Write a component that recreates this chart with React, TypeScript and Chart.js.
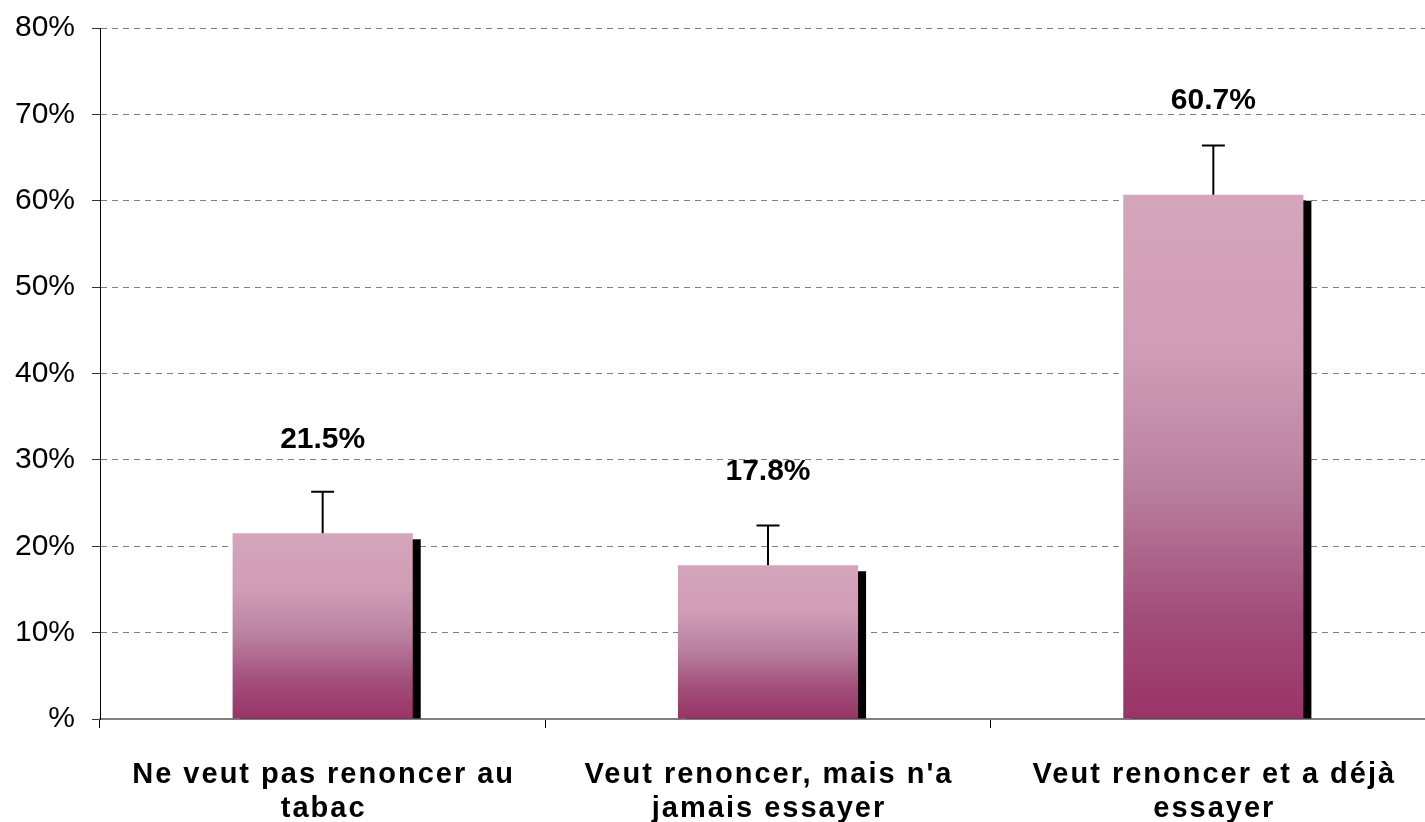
import React, { useEffect, useRef } from 'react';
import { Chart, registerables } from 'chart.js';

Chart.register(...registerables);

const FONT = '"Liberation Sans", Arial, Helvetica, sans-serif';

const categories: string[][] = [
  ['Ne veut pas renoncer au', 'tabac'],
  ["Veut renoncer, mais n'a", 'jamais essayer'],
  ['Veut renoncer et a déjà', 'essayer'],
];
const values: number[] = [21.5, 17.8, 60.7];
const errorsUp: number[] = [4.8, 4.6, 5.7];
const yTickValues: number[] = [0, 10, 20, 30, 40, 50, 60, 70, 80];
const yTickLabels: string[] = ['%', '10%', '20%', '30%', '40%', '50%', '60%', '70%', '80%'];

const W = 1436;
const H = 822;

const decorPlugin = {
  id: 'decor',
  beforeDatasetsDraw(chart: any) {
    const ctx = chart.ctx;
    const meta = chart.getDatasetMeta(0);
    ctx.save();
    ctx.fillStyle = '#000000';
    meta.data.forEach((bar: any) => {
      const p = bar.getProps(['x', 'y', 'width', 'base'], true);
      const left = p.x - p.width / 2 + 8;
      const top = p.y + 6;
      ctx.fillRect(left, top, p.width, p.base - top);
    });
    ctx.restore();
  },
  afterDatasetsDraw(chart: any) {
    const ctx = chart.ctx;
    const ys = chart.scales.y;
    const meta = chart.getDatasetMeta(0);
    ctx.save();
    meta.data.forEach((bar: any, i: number) => {
      const p = bar.getProps(['x', 'y', 'width', 'base'], true);
      const yTop = ys.getPixelForValue(values[i] + errorsUp[i]);
      ctx.strokeStyle = '#000000';
      ctx.lineWidth = 2;
      ctx.beginPath();
      ctx.moveTo(p.x, p.y);
      ctx.lineTo(p.x, yTop);
      ctx.moveTo(p.x - 11.5, yTop);
      ctx.lineTo(p.x + 11.5, yTop);
      ctx.stroke();

      ctx.fillStyle = '#000000';
      ctx.font = `bold 30px ${FONT}`;
      ctx.textAlign = 'center';
      ctx.textBaseline = 'middle';
      ctx.fillText(values[i].toFixed(1) + '%', p.x, p.y - 94);
    });
    ctx.restore();
  },
  afterDraw(chart: any) {
    const ctx = chart.ctx;
    const xs = chart.scales.x;
    ctx.save();
    ctx.fillStyle = '#000000';
    ctx.font = `bold 29px ${FONT}`;
    (ctx as any).letterSpacing = '2px';
    ctx.textAlign = 'center';
    ctx.textBaseline = 'alphabetic';
    categories.forEach((lines, i) => {
      const cx = xs.getPixelForValue(i) + 1;
      lines.forEach((line, j) => {
        ctx.fillText(line, cx, 783 + j * 34);
      });
    });
    ctx.restore();
  },
};

function barGradient(c: any) {
  const chart = c.chart;
  if (!chart.chartArea || c.type !== 'data') return '#993366';
  const ys = chart.scales.y;
  const top = ys.getPixelForValue(c.raw);
  const bot = ys.getPixelForValue(0);
  const g = chart.ctx.createLinearGradient(0, top, 0, bot);
  g.addColorStop(0, '#D4A5BB');
  g.addColorStop(0.3, '#CF9DB6');
  g.addColorStop(0.55, '#BA819F');
  g.addColorStop(0.8, '#A24E7A');
  g.addColorStop(1, '#993366');
  return g;
}

export default function App() {
  const ref = useRef<HTMLCanvasElement>(null);

  useEffect(() => {
    document.documentElement.style.overflow = 'hidden';
    document.body.style.overflow = 'hidden';
    document.body.style.margin = '0';
    const canvas = ref.current;
    if (!canvas) return;
    const chart = new Chart(canvas, {
      type: 'bar',
      data: {
        labels: categories.map((l) => l.join(' ')),
        datasets: [
          {
            data: values,
            backgroundColor: barGradient,
            borderWidth: 0,
            barPercentage: 0.4045,
            categoryPercentage: 1,
          },
        ],
      },
      options: {
        responsive: false,
        animation: false,
        devicePixelRatio: 1,
        layout: { padding: { top: 28, right: 0, bottom: 0, left: 0 } },
        plugins: {
          legend: { display: false },
          tooltip: { enabled: false },
        },
        scales: {
          x: {
            type: 'category',
            afterFit: (s: any) => {
              s.height = H - 719;
              s.paddingLeft = 0;
              s.paddingRight = 0;
            },
            grid: {
              display: true,
              offset: true,
              drawOnChartArea: false,
              drawTicks: true,
              tickLength: 9,
              tickColor: '#000000',
              tickWidth: 1,
            },
            border: { display: true, color: '#808080', width: 2 },
            ticks: { display: false },
          },
          y: {
            min: 0,
            max: 80,
            afterFit: (s: any) => {
              s.width = 100;
              s.paddingTop = 0;
              s.paddingBottom = 0;
            },
            afterBuildTicks: (s: any) => {
              s.ticks = yTickValues.map((v) => ({ value: v }));
            },
            grid: {
              color: '#808080',
              lineWidth: 1,
              drawTicks: true,
              tickLength: 8,
              tickColor: '#333333',
              tickWidth: 1,
            },
            border: { display: true, color: '#000000', width: 1, dash: [6, 5] },
            ticks: {
              padding: 17,
              color: '#000000',
              font: { family: FONT, size: 30 },
              callback: (v: any) => {
                const idx = yTickValues.indexOf(Number(v));
                return idx >= 0 ? yTickLabels[idx] : '';
              },
            },
          },
        },
      },
      plugins: [decorPlugin],
    });
    return () => chart.destroy();
  }, []);

  return (
    <div style={{ position: 'fixed', left: 0, top: 0, width: W, height: H, background: '#ffffff' }}>
      <canvas ref={ref} width={W} height={H} style={{ display: 'block' }} />
    </div>
  );
}
